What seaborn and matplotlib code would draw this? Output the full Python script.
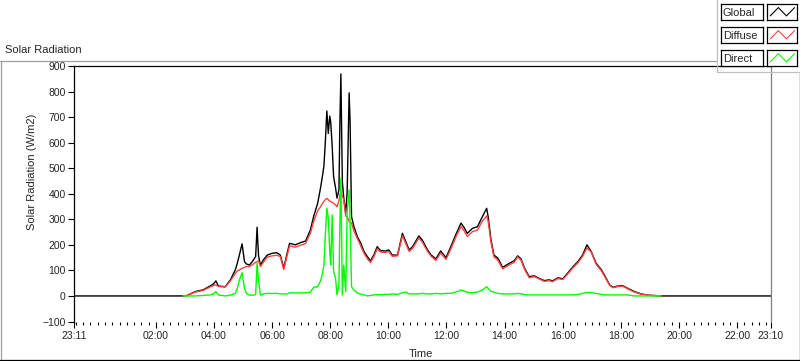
import pandas as pd
import matplotlib.pyplot as plt
import matplotlib.dates as mdates
from matplotlib.lines import Line2D
import seaborn as sns

# readings: clock time (day after the start), global, diffuse, direct in W/m2
start_time = "23:11"
end_time = "23:10"
times = ["02:56", "03:05", "03:21", "03:38", "03:52", "03:59", "04:04", "04:09", "04:23", "04:34",
         "04:44", "04:48", "04:52", "04:58", "05:03", "05:07", "05:13", "05:19", "05:26", "05:29",
         "05:32", "05:36", "05:42", "05:50", "06:00", "06:10", "06:17", "06:24", "06:31", "06:36",
         "06:48", "06:59", "07:09", "07:19", "07:26", "07:34", "07:40", "07:44", "07:47", "07:50",
         "07:53", "07:56", "07:59", "08:01", "08:04", "08:07", "08:11", "08:14", "08:18", "08:20",
         "08:22", "08:25", "08:28", "08:32", "08:35", "08:39", "08:41", "08:44", "08:49", "08:56",
         "09:03", "09:10", "09:17", "09:23", "09:30", "09:37", "09:44", "09:54", "10:01", "10:08",
         "10:19", "10:29", "10:36", "10:43", "10:50", "11:03", "11:10", "11:21", "11:28", "11:38",
         "11:48", "11:59", "12:09", "12:19", "12:30", "12:36", "12:43", "12:54", "13:04", "13:14",
         "13:23", "13:26", "13:32", "13:38", "13:46", "13:56", "14:10", "14:20", "14:27", "14:34",
         "14:41", "14:51", "15:01", "15:11", "15:22", "15:32", "15:39", "15:50", "16:00", "16:10",
         "16:21", "16:31", "16:41", "16:50", "16:59", "17:09", "17:20", "17:26", "17:37", "17:44",
         "17:54", "18:04", "18:14", "18:28", "18:42", "18:56", "19:23"]
global_rad = [0, 2, 17, 24, 39, 47, 59, 39, 36, 63,
              102, 127, 157, 204, 134, 125, 121, 134, 154, 269,
              157, 121, 141, 160, 167, 169, 160, 109, 167, 206,
              200, 209, 215, 258, 313, 362, 423, 470, 509, 606,
              724, 636, 704, 681, 587, 466, 423, 383, 415, 685,
              869, 446, 383, 323, 411, 795, 685, 310, 271, 232,
              207, 173, 153, 137, 160, 193, 177, 176, 180, 160,
              160, 245, 212, 180, 193, 235, 219, 180, 161, 145,
              176, 150, 193, 239, 285, 269, 245, 265, 271, 310,
              343, 310, 219, 160, 148, 112, 128, 138, 157, 145,
              109, 75, 79, 69, 60, 63, 59, 71, 67, 89,
              114, 134, 160, 200, 173, 128, 102, 82, 43, 34,
              39, 40, 30, 17, 8, 3, 0]
diffuse_rad = [0, 2, 15, 22, 35, 41, 43, 37, 35, 59,
               88, 98, 101, 108, 112, 115, 115, 122, 132, 134,
               137, 115, 132, 152, 157, 159, 154, 103, 158, 196,
               191, 199, 205, 245, 293, 333, 349, 362, 370, 377,
               382, 377, 372, 369, 366, 363, 357, 349, 372, 396,
               408, 391, 376, 313, 310, 293, 288, 285, 254, 225,
               196, 166, 145, 131, 153, 184, 172, 170, 174, 155,
               157, 235, 205, 174, 186, 227, 211, 174, 156, 139,
               168, 143, 184, 229, 272, 256, 233, 252, 258, 293,
               313, 293, 209, 153, 140, 106, 122, 132, 153, 140,
               105, 71, 76, 67, 57, 60, 56, 68, 64, 85,
               110, 129, 155, 188, 171, 124, 98, 78, 41, 32,
               37, 38, 28, 15, 7, 3, 0]
direct_rad = [0, 0, 0, 2, 4, 8, 17, 4, 0, 3,
              10, 29, 59, 91, 29, 10, 3, 3, 5, 129,
              59, 3, 8, 10, 10, 10, 8, 8, 8, 12,
              12, 12, 12, 15, 34, 36, 59, 88, 121, 244,
              344, 305, 176, 121, 317, 95, 70, 4, 43, 293,
              461, 4, 121, 17, 330, 415, 290, 36, 23, 12,
              7, 4, 0, 2, 4, 5, 5, 6, 6, 8,
              6, 12, 15, 8, 8, 8, 10, 8, 8, 10,
              8, 10, 10, 15, 23, 20, 14, 13, 15, 23,
              36, 29, 18, 15, 10, 8, 8, 8, 10, 8,
              5, 4, 4, 4, 4, 4, 4, 4, 4, 4,
              4, 6, 10, 13, 13, 10, 6, 4, 4, 4,
              4, 4, 4, 0, 0, 0, 0]

series_names = ["Global", "Diffuse", "Direct"]
series_colors = ["#000000", "#ff4040", "#00ff00"]

t0 = pd.Timestamp("2000-01-01 " + start_time)
t1 = pd.Timestamp("2000-01-02 " + end_time)
day = [pd.Timestamp("2000-01-02 " + t) for t in times]

# the global record covers the whole span, the other two only daylight
frames = [pd.DataFrame({"Time": [t0] + day + [t1], "Radiation": [0] + global_rad + [0], "Series": "Global"}),
          pd.DataFrame({"Time": day, "Radiation": diffuse_rad, "Series": "Diffuse"}),
          pd.DataFrame({"Time": day, "Radiation": direct_rad, "Series": "Direct"})]
df = pd.concat(frames, ignore_index=True)

sns.set_style("white")
plt.rcParams['font.family'] = ['Liberation Sans', 'DejaVu Sans']

fig = plt.figure(figsize=(8, 3.61), dpi=100)
W, H = 800, 361
ax = fig.add_axes([74 / W, 1 - 321.5 / H, (771 - 74) / W, (321.5 - 66) / H])

sns.lineplot(data=df, x="Time", y="Radiation", hue="Series", hue_order=series_names,
             palette=series_colors, estimator=None, linewidth=1, legend=False, ax=ax)

ax.set_xlim(t0, t1)
ax.set_ylim(-100, 900)
ax.set_yticks(range(-100, 901, 100))

major = [t0] + [pd.Timestamp("2000-01-02 %02d:00" % h) for h in range(2, 23, 2)] + [t1]
ax.set_xticks(major)
ax.set_xticklabels([t.strftime("%H:%M") for t in major])
ax.xaxis.set_minor_locator(mdates.MinuteLocator(byminute=[0, 15, 30, 45]))

ax.tick_params(axis="both", which="major", labelsize=7.5, length=4, width=0.8, color="black", pad=2)
ax.tick_params(axis="x", which="minor", length=2.5, width=0.8, color="black", bottom=True)
ax.tick_params(axis="x", which="major", length=4.5, bottom=True)
ax.tick_params(axis="y", left=True)

for side in ["left", "top"]:
    ax.spines[side].set_color("black")
    ax.spines[side].set_linewidth(0.9)
ax.spines["right"].set_color("#808080")
ax.spines["right"].set_linewidth(0.9)
ax.spines["bottom"].set_visible(False)

ax.set_xlabel("")
ax.set_ylabel("Solar Radiation (W/m2)", fontsize=8)
ax.yaxis.set_label_coords(-(74 - 37) / 697, 0.585)
fig.text(421 / W, 1 - 354 / H, "Time", fontsize=8, ha="center", va="center")
fig.text(5 / W, 1 - 50 / H, "Solar Radiation", fontsize=8, ha="left", va="center")

# panel frame
fig.add_artist(Line2D([0, 716 / W], [1 - 61 / H] * 2, color="#a0a0a0", lw=0.9))
fig.add_artist(Line2D([0.5 / W] * 2, [1 - 61 / H, 1 - 360 / H], color="#a0a0a0", lw=0.9))
fig.add_artist(Line2D([0, 1], [1 - 359.5 / H] * 2, color="black", lw=0.9))
fig.add_artist(Line2D([799.5 / W] * 2, [1 - 72 / H, 1 - 360 / H], color="black", lw=0.9))
# legend frame
fig.add_artist(Line2D([716.5 / W] * 2, [1, 1 - 72 / H], color="#c0c0c0", lw=0.9))
fig.add_artist(Line2D([716.5 / W, 1], [1 - 72 / H] * 2, color="#c0c0c0", lw=0.9))

row_top = [3.5, 26.5, 49.5]
for name, color, ytop in zip(series_names, series_colors, row_top):
    tb = fig.add_axes([721 / W, 1 - (ytop + 16.5) / H, 42 / W, 16.5 / H])
    tb.set_xticks([]); tb.set_yticks([])
    tb.text(0.04, 0.45, name, fontsize=8, ha="left", va="center", transform=tb.transAxes)
    sb = fig.add_axes([767 / W, 1 - (ytop + 16.5) / H, 30 / W, 16.5 / H])
    sb.plot([0, 1, 2, 3], [0, 1, 0, 1], color=color, lw=0.8)
    sb.set_xlim(-0.4, 3.3); sb.set_ylim(-0.5, 1.5)
    sb.set_xticks([]); sb.set_yticks([])
    for a in (tb, sb):
        for s in a.spines.values():
            s.set_color("black")
            s.set_linewidth(0.9)

fig.savefig("out.png", dpi=100)
